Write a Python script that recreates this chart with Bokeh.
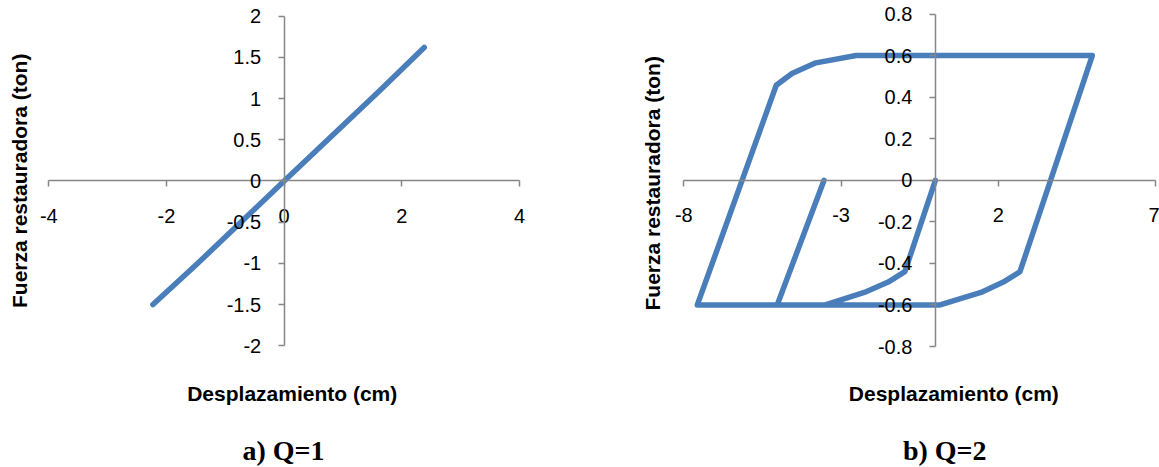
from bokeh.plotting import figure
from bokeh.models import Range1d, LinearAxis, FixedTicker, CustomJSTickFormatter, Title
from bokeh.layouts import row
from bokeh.embed import file_html
from bokeh.resources import INLINE

# ---------------- data ----------------
# a) Q=1 : linear elastic response
disp_a = [-2.23, -1.5, -0.75, 0.0, 0.8, 1.6, 2.38]
force_a = [-1.5, -1.02, -0.51, 0.0, 0.54, 1.08, 1.62]

# b) Q=2 : elasto-plastic hysteresis loop
disp_b = [0.0, -0.97, -1.5, -2.26, -3.5, -7.57, -5.06, -4.56, -3.8, -2.52,
          4.99, 2.69, 2.16, 1.45, 0.15, -5.03, -3.54]
force_b = [0.0, -0.44, -0.49, -0.54, -0.6, -0.6, 0.457, 0.514, 0.565, 0.6,
           0.6, -0.44, -0.49, -0.54, -0.6, -0.6, 0.0]

xticks_a = [-4, -2, 0, 2, 4]
xlabels_a = ["-4", "-2", "0", "2", "4"]
yticks_a = [-2, -1.5, -1, -0.5, 0, 0.5, 1, 1.5, 2]
ylabels_a = ["-2", "-1.5", "-1", "-0.5", "0", "0.5", "1", "1.5", "2"]

xticks_b = [-8, -3, 2, 7]
xlabels_b = ["-8", "-3", "2", "7"]
yticks_b = [-0.8, -0.6, -0.4, -0.2, 0, 0.2, 0.4, 0.6, 0.8]
ylabels_b = ["-0.8", "-0.6", "-0.4", "-0.2", "0", "0.2", "0.4", "0.6", "0.8"]

x_title = "Desplazamiento (cm)"
y_title = "Fuerza restauradora (ton)"
caption_a = "a)   Q=1"
caption_b = "b) Q=2"

# ---------------- style ----------------
LINE_COLOR = "#4A7EBB"
AXIS_COLOR = "#868686"
SANS = "Liberation Sans"
SERIF = "Liberation Serif"
HEIGHT = 467


def formatter(vals, labels):
    return CustomJSTickFormatter(
        args=dict(tick_values=vals, tick_labels=labels),
        code="const i = tick_values.indexOf(tick); return i >= 0 ? tick_labels[i] : String(tick);",
    )


def style_axis(ax, standoff):
    ax.axis_line_color = AXIS_COLOR
    ax.axis_line_width = 1.5
    ax.major_tick_line_color = AXIS_COLOR
    ax.major_tick_line_width = 1.5
    ax.major_tick_out = 6
    ax.major_tick_in = 0
    ax.minor_tick_out = 0
    ax.minor_tick_in = 0
    ax.major_label_text_font = SANS
    ax.major_label_text_font_size = "20px"
    ax.major_label_text_color = "#000000"
    ax.major_label_standoff = standoff


def make_chart(xs, ys, xr, yr, xt, xl, yt, yl, caption, width, left, bottom,
               xtitle_offset, ytitle_offset, ytitle_standoff, gap, cap_offset):
    p = figure(width=width, height=HEIGHT, x_range=Range1d(*xr), y_range=Range1d(*yr),
               x_axis_type=None, y_axis_type=None, toolbar_location=None,
               output_backend="svg", min_border_left=left, min_border_right=0,
               min_border_top=0, min_border_bottom=bottom)
    p.outline_line_color = None
    p.background_fill_color = "white"
    p.border_fill_color = "white"

    p.line(xs, ys, line_color=LINE_COLOR, line_width=5.5, line_join="round",
           line_cap="round")

    xa = LinearAxis(fixed_location=0, ticker=FixedTicker(ticks=xt),
                    formatter=formatter(xt, xl), bounds=(min(xt), max(xt)))
    style_axis(xa, 22)
    p.add_layout(xa, "below")

    ya = LinearAxis(fixed_location=0, ticker=FixedTicker(ticks=yt),
                    formatter=formatter(yt, yl), bounds=(min(yt), max(yt)))
    style_axis(ya, 17)
    p.add_layout(ya, "left")

    p.add_layout(Title(text=x_title, align="left", offset=xtitle_offset,
                       vertical_align="top", standoff=-2, text_font=SANS,
                       text_font_size="21px", text_font_style="bold",
                       text_color="#000000"), "below")

    # blank spacer between the axis title and the caption
    sp = LinearAxis(ticker=FixedTicker(ticks=[xr[1]]), axis_line_color=None,
                    major_tick_out=gap, major_tick_in=0, major_tick_line_color="white",
                    minor_tick_out=0, minor_tick_in=0, major_label_standoff=0,
                    major_label_text_color=None)
    p.add_layout(sp, "below")

    p.add_layout(Title(text=caption, align="left", offset=cap_offset,
                       vertical_align="top", standoff=0, text_font=SERIF,
                       text_font_size="28px", text_font_style="bold",
                       text_color="#000000"), "below")
    p.add_layout(Title(text=y_title, align="left", offset=ytitle_offset,
                       vertical_align="top", standoff=ytitle_standoff, text_font=SANS,
                       text_font_size="21px", text_font_style="bold",
                       text_color="#000000"), "left")
    return p


p1 = make_chart(disp_a, force_a, (-4.209, 5.886), (-2.4454, 2.1905), xticks_a, xlabels_a,
                yticks_a, ylabels_a, caption_a, 630, 36, 85,
                xtitle_offset=150.7, ytitle_offset=74.5, ytitle_standoff=8,
                gap=29, cap_offset=206)
p2 = make_chart(disp_b, force_b, (-8.359, 7.127), (-0.9732, 0.865), xticks_b, xlabels_b,
                yticks_b, ylabels_b, caption_b, 529, 42, 85,
                xtitle_offset=176.3, ytitle_offset=72, ytitle_standoff=14,
                gap=29, cap_offset=230.4)

layout = row(p1, p2)
open("out.html", "w").write(file_html(layout, INLINE))
